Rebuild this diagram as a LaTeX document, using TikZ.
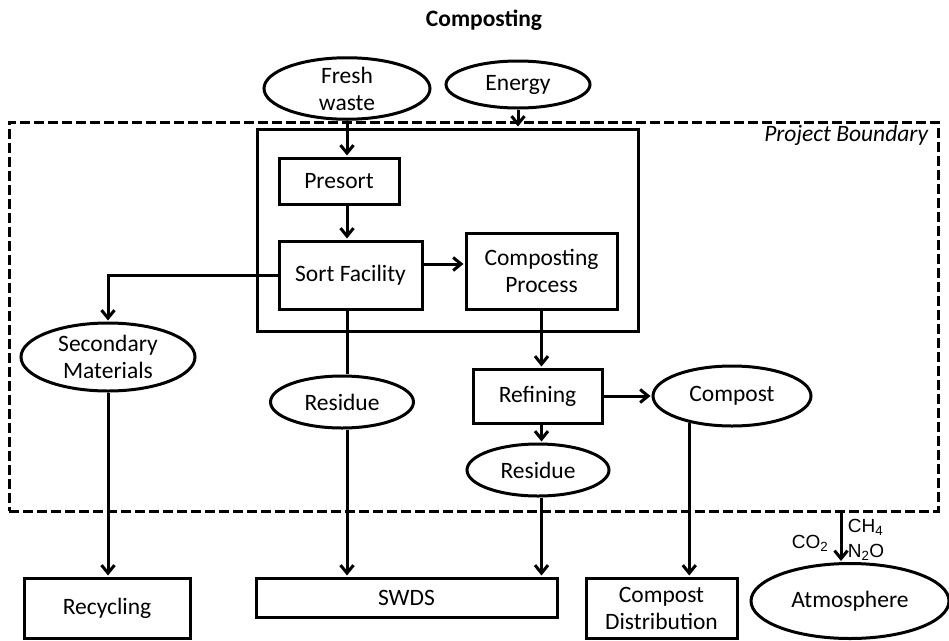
\documentclass[tikz,border=0pt]{standalone}
\usepackage{fontspec}
\setmainfont{Carlito}
\newfontfamily\gasfont{Liberation Sans}
\newcommand\diagfont{\fontsize{23.5}{27}\selectfont}
\usetikzlibrary{shapes.geometric,positioning,arrows.meta}

\begin{document}
\begin{tikzpicture}[x=1pt,y=-1pt,->,>={Straight Barb[length=8pt,width=13pt]},shorten >=1pt,line width=3pt,font=\diagfont]
\tikzstyle{box}=[rectangle,draw=black,fill=white,align=center,inner sep=0pt]
\tikzstyle{flow}=[ellipse,draw=black,fill=white,align=center,inner sep=0pt]
\useasboundingbox (0,0) rectangle (949,640);

\node[font=\diagfont\bfseries] (T) at (484,20) {Composting};
\node[draw,dash pattern=on 10pt off 4pt,minimum width=929pt,minimum height=389pt] (PB) at (473.5,316.5) {};
\node[font=\diagfont\itshape,anchor=east] (PBL) at (933,135) {Project Boundary};
\node[draw,minimum width=381pt,minimum height=202pt] (Plant) at (447.5,230) {};

\node[flow,minimum width=166pt,minimum height=57pt] (Fresh) at (347,88.5) {Fresh\\waste};
\node[flow,minimum width=144pt,minimum height=47pt] (Energy) at (518,84.5) {Energy};
\node[box,minimum width=120pt,minimum height=46pt] (Presort) at (339,181) {Presort};
\node[box,minimum width=143pt,minimum height=68pt] (Sort) at (350.5,275) {Sort Facility};
\node[box,minimum width=151pt,minimum height=76pt] (Comp) at (541.5,271) {Composting\\Process};
\node[flow,minimum width=174pt,minimum height=68pt] (Sec) at (108,357) {Secondary\\Materials};
\node[flow,minimum width=143pt,minimum height=52pt] (Res1) at (342,402) {Residue};
\node[box,minimum width=129pt,minimum height=54pt] (Refine) at (537.5,396) {Refining};
\node[flow,minimum width=158pt,minimum height=60pt] (Compost) at (732,396) {Compost};
\node[flow,minimum width=142pt,minimum height=52pt] (Res2) at (538,470) {Residue};
\node[box,minimum width=166pt,minimum height=60pt] (Recyc) at (107,608) {Recycling};
\node[box,minimum width=301pt,minimum height=39pt] (SWDS) at (406.5,597.5) {SWDS};
\node[box,minimum width=151pt,minimum height=60pt] (Dist) at (661.5,608) {Compost\\Distribution};
\node[flow,minimum width=198pt,minimum height=75pt] (Atmo) at (850,601) {Atmosphere};
\coordinate (Outlet) at (841,511);

\draw (Sort.west) -| (Sec.north);
\path
(Fresh) edge (Fresh |- Presort.north)
(Energy) edge (Energy |- Plant.north)
(Fresh |- Presort.south) edge (Fresh |- Sort.north)
([yshift=11pt]Sort.east) edge ([yshift=11pt]Sort.east -| Comp.west)
(Fresh |- Sort.south) edge[-] (Fresh |- Res1.north)
(Fresh |- Res1.south) edge (Fresh |- SWDS.north)
(Sec) edge (Sec |- Recyc.north)
(Comp) edge (Comp |- Refine.north)
(Refine) edge (Compost)
(Comp |- Refine.south) edge (Comp |- Res2.north)
(Comp |- Res2.south) edge (Comp |- SWDS.north)
(Compost.212) edge (Compost.212 |- Dist.north)
(Outlet) edge node[pos=0.63,left,xshift=-8pt,font=\gasfont\fontsize{19}{25}\selectfont] {CO\textsubscript{2}}
  node[pos=0.56,right,align=left,xshift=2pt,font=\gasfont\fontsize{19}{25}\selectfont] {CH\textsubscript{4}\\N\textsubscript{2}O} (Outlet |- Atmo.north);
\end{tikzpicture}
\end{document}
